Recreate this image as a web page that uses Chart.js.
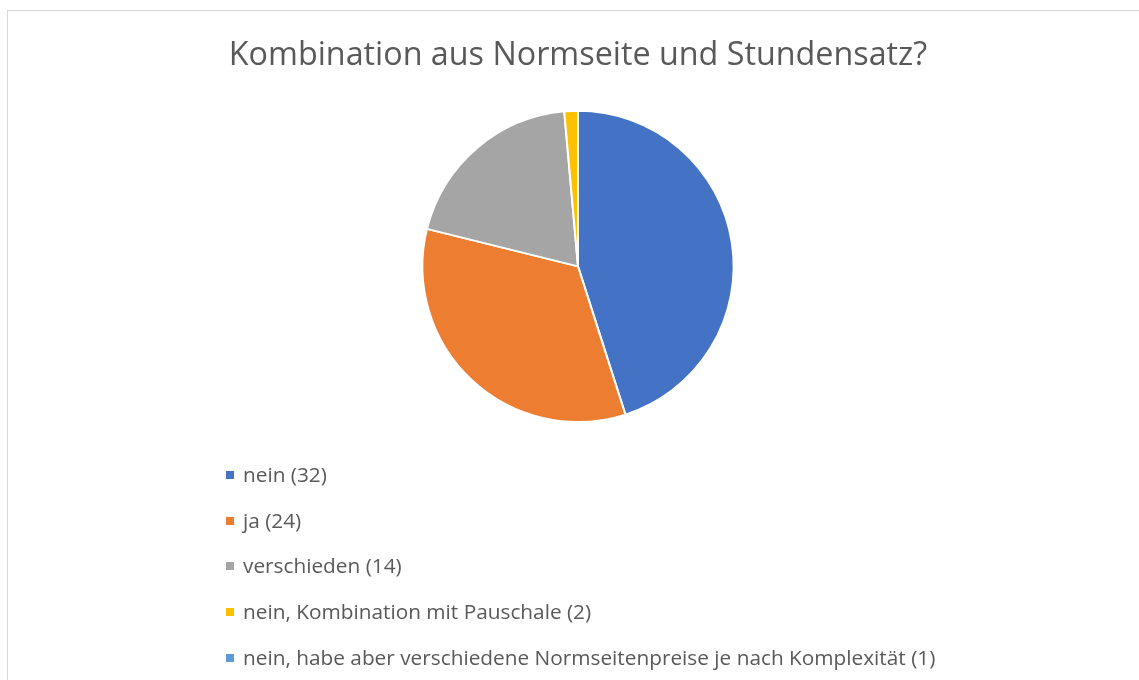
<!DOCTYPE html>
<html><head><meta charset="utf-8">
<script src="https://cdn.jsdelivr.net/npm/chart.js@4.4.0/dist/chart.umd.min.js"></script>
<style>
html,body{margin:0;padding:0;background:#fff;overflow:hidden}
#wrap{position:relative;width:1139px;height:680px}
#frame{position:absolute;left:7px;top:10px;width:1200px;height:720px;border:1px solid #D9D9D9;box-sizing:border-box}
#c{position:absolute;left:0;top:0}
</style></head><body>
<div id="wrap"><div id="frame"></div><canvas id="c" width="1139" height="680"></canvas></div>
<script>
const titleText = 'Kombination aus Normseite und Stundensatz?';
const categories = [
  'nein (32)',
  'ja (24)',
  'verschieden (14)',
  'nein, Kombination mit Pauschale (2)',
  'nein, habe aber verschiedene Normseitenpreise je nach Komplexität (1)'
];
const values = [32, 24, 14, 1, 0];
const colors = ['#4472C4', '#ED7D31', '#A5A5A5', '#FFC000', '#5B9BD5'];

const FONT = '"Open Sans", "Noto Sans", sans-serif';

const vLegend = {
  id: 'vLegend',
  afterDraw(chart) {
    const ctx = chart.ctx;
    const ds = chart.data.datasets[0];
    ctx.save();
    ctx.font = '20.8px ' + FONT;
    ctx.textBaseline = 'middle';
    chart.data.labels.forEach((label, i) => {
      const y = 475 + i * 45.7;
      ctx.fillStyle = ds.backgroundColor[i];
      ctx.fillRect(226, Math.round(y) - 4, 8, 8);
      ctx.fillStyle = '#595959';
      ctx.fillText(label, 243, y + 1);
    });
    ctx.restore();
  }
};

new Chart(document.getElementById('c'), {
  type: 'pie',
  data: {
    labels: categories,
    datasets: [{
      data: values,
      backgroundColor: colors,
      borderColor: '#FFFFFF',
      borderWidth: 2
    }]
  },
  options: {
    responsive: false,
    animation: false,
    devicePixelRatio: 1,
    layout: { padding: { top: 0, bottom: 257, left: 17, right: 0 } },
    plugins: {
      legend: { display: false },
      tooltip: { enabled: false },
      title: {
        display: true,
        text: titleText,
        color: '#595959',
        font: { family: FONT, size: 32.3, weight: 'normal' },
        padding: { top: 36, bottom: 35 }
      }
    }
  },
  plugins: [vLegend]
});
</script>
</body></html>
